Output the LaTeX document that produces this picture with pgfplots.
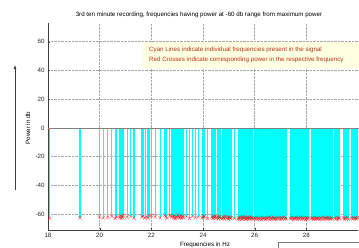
\documentclass[border=0pt]{standalone}
\usepackage{pgfplots}
\pgfplotsset{compat=1.18}
\usepackage{pgfplotstable}
\usepackage{fontspec}
\setmainfont{Liberation Sans}
\usetikzlibrary{arrows.meta}
\definecolor{boxbg}{HTML}{FFFFE1}
\definecolor{txtred}{HTML}{B8321E}
\definecolor{axgray}{HTML}{404040}
\definecolor{cyanc}{RGB}{0,255,255}
\definecolor{redc}{RGB}{255,0,0}

\pgfplotstableread{
x y
18.06 -62.8
19.24 -62.5
19.99 -61.9
20.14 -62.6
20.31 -62.2
20.47 -61.5
20.60 -62.9
20.66 -61.8
20.78 -62.4
20.81 -61.2
20.84 -63.0
20.86 -61.7
20.89 -62.3
20.92 -60.9
21.06 -62.1
21.20 -61.6
21.33 -62.7
21.64 -62.0
21.68 -61.4
21.76 -62.6
21.84 -61.8
21.88 -62.9
21.93 -61.3
22.00 -60.8
22.15 -61.9
22.34 -62.4
22.52 -60.6
22.56 -61.7
22.60 -62.8
22.72 -61.2
22.79 -62.0
22.82 -60.9
22.86 -62.7
22.89 -61.4
22.93 -63.1
22.96 -61.8
23.00 -62.3
23.03 -60.7
23.07 -61.9
23.10 -62.6
23.14 -61.1
23.17 -62.9
23.21 -61.5
23.24 -62.2
23.36 -61.7
23.48 -62.8
23.60 -61.3
23.70 -62.4
23.82 -61.9
23.97 -62.6
24.00 -61.0
24.03 -62.2
24.05 -61.6
24.18 -62.9
24.35 -62.1
24.38 -63.0
24.41 -61.7
24.44 -62.5
24.47 -61.2
24.50 -62.8
24.56 -61.9
24.59 -63.2
24.62 -62.0
24.65 -61.4
24.68 -62.7
24.74 -63.1
24.77 -61.8
24.80 -62.4
24.83 -63.3
24.86 -61.6
24.92 -62.9
24.95 -62.2
24.98 -63.4
25.01 -61.9
25.04 -62.6
25.07 -63.0
25.10 -62.3
25.22 -62.8
25.36 -63.1
25.39 -62.4
25.42 -63.5
25.45 -62.0
25.48 -62.9
25.51 -63.3
25.54 -61.8
25.57 -62.6
25.60 -63.2
25.63 -62.1
25.66 -63.6
25.69 -62.5
25.72 -63.0
25.75 -62.2
25.78 -63.4
25.81 -62.7
25.84 -61.9
25.87 -63.1
25.90 -62.4
25.93 -63.5
26.00 -62.8
26.03 -63.2
26.07 -62.5
26.11 -63.6
26.15 -62.9
26.19 -63.3
26.23 -62.1
26.27 -63.8
26.31 -62.7
26.35 -63.1
26.39 -62.4
26.43 -63.5
26.47 -62.8
26.51 -63.0
26.55 -62.2
26.59 -63.7
26.63 -62.6
26.67 -63.4
26.71 -62.0
26.75 -63.2
26.79 -62.9
26.83 -63.6
26.87 -62.3
26.91 -63.0
26.95 -62.7
26.99 -63.8
27.03 -62.5
27.07 -63.3
27.11 -62.1
27.15 -63.5
27.19 -62.8
27.23 -63.1
27.37 -62.6
27.41 -63.4
27.45 -62.2
27.49 -63.7
27.53 -62.9
27.57 -63.0
27.61 -62.4
27.65 -63.6
27.69 -62.7
27.73 -63.2
27.77 -62.0
27.81 -63.5
27.85 -62.8
27.89 -63.1
27.93 -62.3
27.97 -63.8
28.01 -62.6
28.05 -63.3
28.09 -62.5
28.20 -63.0
28.24 -62.7
28.28 -63.6
28.32 -62.2
28.36 -63.4
28.40 -62.9
28.44 -63.1
28.48 -62.4
28.52 -63.7
28.56 -62.6
28.60 -63.2
28.64 -62.1
28.68 -63.5
28.72 -62.8
28.76 -63.0
28.80 -62.3
28.84 -63.6
28.88 -62.7
28.92 -63.3
28.96 -62.5
29.00 -63.1
29.10 -62.9
29.14 -63.4
29.18 -62.2
29.22 -63.7
29.26 -62.6
29.30 -63.0
29.43 -62.4
29.47 -63.5
29.51 -62.8
29.55 -63.2
29.59 -62.1
29.63 -63.6
29.75 -62.7
29.79 -63.3
29.83 -62.5
29.87 -63.0
29.91 -62.9
29.95 -63.4
29.99 -62.3
}\freqdata

\begin{document}
\begin{tikzpicture}[x=1pt,y=1pt]
\useasboundingbox (0,0) rectangle (359,247);
\clip (0,0) rectangle (359,247);
\begin{axis}[
  at={(48pt,17pt)}, anchor=south west,
  width=310pt, height=207pt, scale only axis,
  xmin=18, xmax=30, ymin=-71, ymax=73,
  axis x line*=bottom, axis y line*=left,
  axis line style={axgray, line width=0.6pt},
  xtick={18,20,...,28}, ytick={-60,-40,...,60},
  minor y tick num=4,
  tick align=inside,
  tick style={axgray, line width=0.3pt},
  major tick length=2pt, minor tick length=1pt,
  grid=major, grid style={densely dotted, gray!70, line width=0.4pt},
  tick label style={font=\fontsize{6.2}{7}\selectfont, text=black!85},
  /pgf/number format/assume math mode=true,
  clip=false,
]
\addplot [ycomb, color=cyanc, line width=1.1pt, no marks] table [x=x, y=y] {\freqdata};
\addplot [only marks, mark=x, mark size=2.3pt, color=redc, opacity=0.6, mark options={line width=0.45pt}] table [x=x, y=y] {\freqdata};
\addplot [gray, line width=0.5pt, no marks] coordinates {(18,0) (30.5,0)};
\end{axis}
\fill[boxbg] (143,179) rectangle (370,205);
\node[anchor=west, text=txtred, font=\fontsize{6.2}{7}\selectfont, inner sep=0pt] at (149,197) {Cyan Lines indicate individual frequencies present in the signal};
\node[anchor=west, text=txtred, font=\fontsize{6.2}{7}\selectfont, inner sep=0pt] at (149,187) {Red Crosses indicate corresponding power in the respective frequency};
\node[font=\fontsize{6.2}{7}\selectfont, inner sep=0pt] at (199,232) {3rd ten minute recording, frequencies having power at -60 db range from maximum power};
\node[rotate=90, font=\fontsize{6.2}{7}\selectfont, inner sep=0pt] at (28,119) {Power in db};
\draw[axgray, line width=0.5pt, -{Latex[length=4pt,width=3pt]}] (15,57) -- (15,182);
\node[anchor=north, font=\fontsize{6.2}{7}\selectfont, inner sep=0pt] at (205,5.5) {Frequencies in Hz};
\draw[gray, line width=0.5pt] (278,-10) rectangle (380,4.3);
\end{tikzpicture}
\end{document}
